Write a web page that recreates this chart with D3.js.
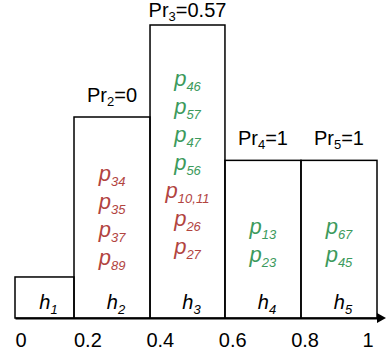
<!DOCTYPE html>
<html>
<head>
<meta charset="utf-8">
<script src="https://cdn.jsdelivr.net/npm/d3@7"></script>
<style>
  body { margin: 0; background: #fff; }
  svg { display: block; font-family: "Liberation Sans", Arial, Helvetica, sans-serif; }
</style>
</head>
<body>
<div id="chart"></div>
<script>
// bin edges on the [0,1] axis and bin heights (relative to tallest bin)
const edges = [0, 0.163, 0.373, 0.58, 0.79, 1];
const heights = [0.14, 0.686, 1, 0.538, 0.538];
const binIds = ['1', '2', '3', '4', '5'];
const prValues = [null, '0', '0.57', '1', '1'];
// pairs stored in each bin, and whether each one is a match (1) or not (0)
const pairs = [[], ['34', '35', '37', '89'], ['46', '57', '47', '56', '10,11', '26', '27'], ['13', '23'], ['67', '45']];
const matched = [[], [0, 0, 0, 0], [1, 1, 1, 1, 0, 0, 0], [1, 1], [1, 1]];
const tickValues = [0, 0.2, 0.4, 0.6, 0.8, 1];

const width = 386;
const height = 354;
const baseY = 318;

const svg = d3.select('#chart')
  .append('svg')
  .attr('width', width)
  .attr('height', height);

const x = d3.scaleLinear().domain([0, 1]).range([15, 377]);
const y = d3.scaleLinear().domain([0, 1]).range([baseY, 25]);
const color = d3.scaleOrdinal().domain([0, 1]).range(['#b2443f', '#3c9a5c']);

const bins = binIds.map((id, i) => ({
  id: id, x0: edges[i], x1: edges[i + 1], h: heights[i],
  pr: prValues[i],
  items: pairs[i].map((p, j) => ({ p: p, m: matched[i][j] }))
}));

// bars
svg.selectAll('rect.bin')
  .data(bins)
  .enter()
  .append('rect')
  .attr('class', 'bin')
  .attr('x', d => x(d.x0))
  .attr('y', d => y(d.h))
  .attr('width', d => x(d.x1) - x(d.x0))
  .attr('height', d => baseY - y(d.h))
  .attr('fill', 'none')
  .attr('stroke', '#000')
  .attr('stroke-width', 1.5);

// axis
const axis = svg.append('g')
  .attr('transform', `translate(0,${baseY})`)
  .call(d3.axisBottom(x).tickValues(tickValues).tickSize(0).tickPadding(15)
    .tickFormat(d => String(d)));
axis.select('.domain').attr('stroke', '#000').attr('stroke-width', 2);
axis.selectAll('text')
  .attr('fill', '#000')
  .style('font-size', '20px')
  .attr('text-anchor', d => d === 0 ? 'start' : (d === 1 ? 'end' : 'middle'))
  .attr('dx', d => d === 1 ? -4 : 0);
svg.append('path')
  .attr('d', `M${x(1)},${baseY - 5}L${x(1) + 9},${baseY}L${x(1)},${baseY + 5}Z`)
  .attr('fill', '#000');

// h labels
const hl = svg.selectAll('text.h')
  .data(bins)
  .enter()
  .append('text')
  .attr('class', 'h')
  .attr('x', d => (x(d.x0) + x(d.x1)) / 2 + 4)
  .attr('y', baseY - 9)
  .attr('text-anchor', 'middle')
  .style('font-style', 'italic')
  .style('font-size', '20px');
hl.append('tspan').text('h');
hl.append('tspan').attr('dy', 5).style('font-size', '13px').text(d => d.id);

// Pr labels
const pr = svg.selectAll('text.pr')
  .data(bins.filter(d => d.pr !== null))
  .enter()
  .append('text')
  .attr('class', 'pr')
  .attr('x', d => (x(d.x0) + x(d.x1)) / 2)
  .attr('y', d => Math.max(y(d.h) - 15, 17))
  .attr('text-anchor', 'middle')
  .style('font-size', '20px');
pr.append('tspan').text('Pr');
pr.append('tspan').attr('dy', 4).style('font-size', '13px').text(d => d.id);
pr.append('tspan').attr('dy', -4).text(d => '=' + d.pr);

// pair lists inside bins
const step = 28;
bins.forEach(b => {
  const n = b.items.length;
  if (!n) return;
  const cx = (x(b.x0) + x(b.x1)) / 2;
  const cy = 0.58 * y(b.h) + 155;
  const t = svg.selectAll(null)
    .data(b.items)
    .enter()
    .append('text')
    .attr('x', cx)
    .attr('y', (d, j) => cy - (n - 1) * step / 2 + j * step)
    .attr('text-anchor', 'middle')
    .attr('fill', d => color(d.m))
    .style('font-style', 'italic')
    .style('font-size', '22px');
  t.append('tspan').text('p');
  t.append('tspan').attr('dy', 5).style('font-size', '13px').text(d => d.p);
});
</script>
</body>
</html>
